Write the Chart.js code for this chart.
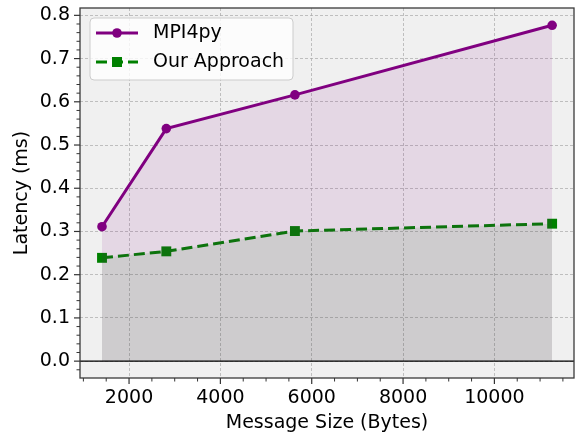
<!DOCTYPE html>
<html>
<head>
<meta charset="utf-8">
<script src="https://cdn.jsdelivr.net/npm/chart.js@4/dist/chart.umd.min.js"></script>
<style>
  html, body { margin: 0; padding: 0; background: #fff; }
  #wrap { width: 581px; height: 434px; position: relative; }
</style>
</head>
<body>
<div id="wrap"><canvas id="chartLatency"></canvas></div>
<script>
  // Datos
  const messageSizes = [1408, 2816, 5632, 11264];
  const mpi4pyLatency = [0.311, 0.538, 0.616, 0.777];
  const ourLatency = [0.239, 0.254, 0.301, 0.318];

  const seriesNames = ['MPI4py', 'Our Approach'];
  const xMajorTicks = [2000, 4000, 6000, 8000, 10000];
  const yMajorTicks = [0.0, 0.1, 0.2, 0.3, 0.4, 0.5, 0.6, 0.7, 0.8];

  const FONT = 'DejaVu Sans';
  const FONT_SIZE = 19;
  const PURPLE = '#800080';
  const GREEN = '#008000';

  // Fondo, línea y=0, marco, ticks menores y leyenda
  const axesDecor = {
    id: 'axesDecor',
    beforeDraw(chart) {
      const a = chart.chartArea;
      const ctx = chart.ctx;
      ctx.save();
      ctx.fillStyle = '#f0f0f0';
      ctx.fillRect(a.left, a.top, a.right - a.left, a.bottom - a.top);
      ctx.restore();
    },
    afterDraw(chart) {
      const a = chart.chartArea;
      const ctx = chart.ctx;
      const xs = chart.scales.x;
      const ys = chart.scales.y;
      ctx.save();

      // línea horizontal en 0
      const y0 = ys.getPixelForValue(0);
      ctx.strokeStyle = '#000';
      ctx.lineWidth = 1.2;
      ctx.beginPath();
      ctx.moveTo(a.left, y0);
      ctx.lineTo(a.right, y0);
      ctx.stroke();

      // marco
      ctx.strokeStyle = '#3a3a3a';
      ctx.lineWidth = 1.3;
      ctx.strokeRect(a.left, a.top, a.right - a.left, a.bottom - a.top);

      // ticks del eje x
      ctx.strokeStyle = '#333';
      for (let v = 1000; v <= xs.max; v += 500) {
        const px = xs.getPixelForValue(v);
        if (px < a.left || px > a.right) continue;
        const major = v % 2000 === 0;
        ctx.lineWidth = major ? 1.2 : 1;
        ctx.beginPath();
        ctx.moveTo(px, a.bottom);
        ctx.lineTo(px, a.bottom + (major ? 6 : 3.5));
        ctx.stroke();
      }
      // ticks del eje y
      for (let i = -2; i <= 40; i++) {
        const v = i * 0.02;
        const py = ys.getPixelForValue(v);
        if (py < a.top || py > a.bottom) continue;
        const major = i % 5 === 0;
        ctx.lineWidth = major ? 1.2 : 1;
        ctx.beginPath();
        ctx.moveTo(a.left, py);
        ctx.lineTo(a.left - (major ? 6 : 3.5), py);
        ctx.stroke();
      }

      // leyenda
      const bx = a.left + 10, by = a.top + 10, bw = 203, bh = 62;
      ctx.fillStyle = 'rgba(255,255,255,0.8)';
      ctx.strokeStyle = '#cccccc';
      ctx.lineWidth = 1;
      ctx.beginPath();
      ctx.roundRect(bx, by, bw, bh, 4);
      ctx.fill();
      ctx.stroke();

      chart.data.datasets.forEach((ds, i) => {
        const ly = by + 15 + i * 29;
        const x1 = bx + 6, x2 = bx + 48, xm = (x1 + x2) / 2;
        ctx.strokeStyle = ds.borderColor;
        ctx.lineWidth = ds.borderWidth;
        ctx.setLineDash(ds.borderDash || []);
        ctx.beginPath();
        ctx.moveTo(x1, ly);
        ctx.lineTo(x2, ly);
        ctx.stroke();
        ctx.setLineDash([]);
        ctx.fillStyle = ds.borderColor;
        if (ds.pointStyle === 'rect') {
          ctx.fillRect(xm - 5, ly - 5, 10, 10);
        } else {
          ctx.beginPath();
          ctx.arc(xm, ly, ds.pointRadius, 0, Math.PI * 2);
          ctx.fill();
        }
        ctx.fillStyle = '#000';
        ctx.font = FONT_SIZE + 'px "' + FONT + '"';
        ctx.textBaseline = 'middle';
        ctx.textAlign = 'left';
        ctx.fillText(ds.label, bx + 63, ly);
      });
      ctx.restore();
    }
  };

  function fitBox(w, h) {
    return function(scale) {
      if (w) scale.width = w;
      if (h) scale.height = h;
      scale.paddingTop = 0;
      scale.paddingBottom = 0;
      scale.paddingLeft = 0;
      scale.paddingRight = 0;
    };
  }
  function setTicks(values) {
    return function(scale) {
      scale.ticks = values.map(v => ({ value: v }));
    };
  }

  const ctx = document.getElementById('chartLatency').getContext('2d');
  const chartInstance = new Chart(ctx, {
    type: 'line',
    data: {
      datasets: [{
        label: seriesNames[0],
        data: messageSizes.map((x, i) => ({ x: x, y: mpi4pyLatency[i] })),
        borderColor: PURPLE,
        backgroundColor: 'rgba(128,0,128,0.1)',
        borderWidth: 3,
        pointStyle: 'circle',
        pointRadius: 4.8,
        pointBackgroundColor: PURPLE,
        pointBorderWidth: 0,
        fill: 'origin',
        tension: 0
      }, {
        label: seriesNames[1],
        data: messageSizes.map((x, i) => ({ x: x, y: ourLatency[i] })),
        borderColor: GREEN,
        backgroundColor: 'rgba(0,128,0,0.1)',
        borderWidth: 3,
        borderDash: [11, 5],
        pointStyle: 'rect',
        pointRadius: 7,
        pointBackgroundColor: GREEN,
        pointBorderWidth: 0,
        fill: 'origin',
        tension: 0
      }]
    },
    options: {
      responsive: true,
      maintainAspectRatio: false,
      animation: false,
      layout: { padding: { left: 0, right: 5, top: 8, bottom: 0 } },
      plugins: {
        legend: { display: false },
        tooltip: { enabled: false }
      },
      scales: {
        x: {
          type: 'linear',
          min: 926,
          max: 11743,
          afterFit: fitBox(0, 56),
          afterBuildTicks: setTicks(xMajorTicks),
          ticks: {
            autoSkip: false,
            maxRotation: 0,
            padding: 9,
            color: '#000',
            font: { family: FONT, size: FONT_SIZE },
            callback: v => String(v)
          },
          grid: {
            color: 'rgba(170,170,170,0.8)',
            lineWidth: 0.9,
            drawTicks: false
          },
          border: { display: false, dash: [3, 2] },
          title: {
            display: true,
            text: 'Message Size (Bytes)',
            color: '#000',
            font: { family: FONT, size: FONT_SIZE },
            padding: { top: 2, bottom: 0 }
          }
        },
        y: {
          type: 'linear',
          min: -0.039,
          max: 0.817,
          afterFit: fitBox(80, 0),
          afterBuildTicks: setTicks(yMajorTicks),
          ticks: {
            autoSkip: false,
            padding: 10,
            color: '#000',
            font: { family: FONT, size: FONT_SIZE },
            callback: v => v.toFixed(1)
          },
          grid: {
            color: 'rgba(170,170,170,0.8)',
            lineWidth: 0.9,
            drawTicks: false
          },
          border: { display: false, dash: [3, 2] },
          title: {
            display: true,
            text: 'Latency (ms)',
            color: '#000',
            font: { family: FONT, size: FONT_SIZE },
            padding: { top: 11, bottom: 4 }
          }
        }
      }
    },
    plugins: [axesDecor]
  });
</script>
</body>
</html>
